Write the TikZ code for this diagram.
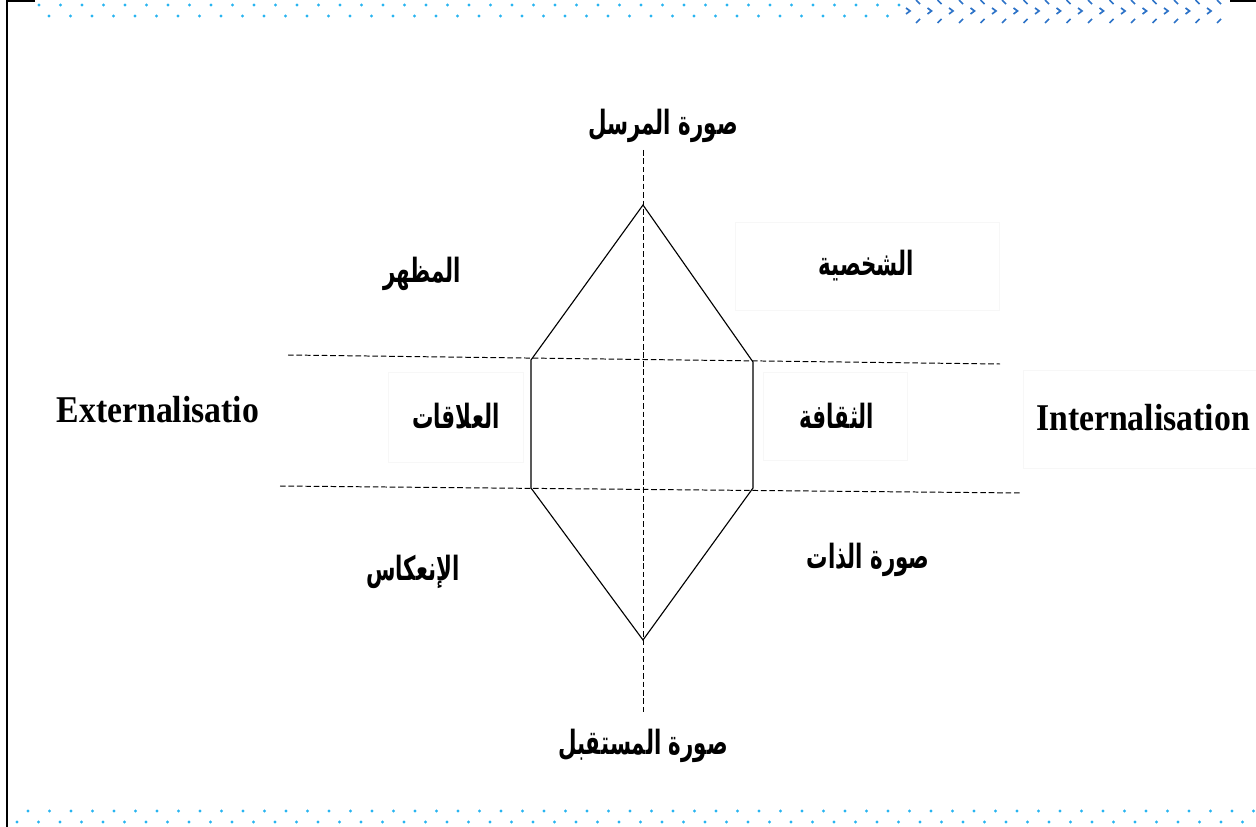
\documentclass[tikz,border=0pt]{standalone}
\usepackage{fontspec}
\usepackage{graphicx}
\setmainfont{Liberation Serif}
\newfontfamily\arabicfont[Script=Arabic]{DejaVu Sans}
\TeXXeTstate=1
\usepackage{tikz}
\usetikzlibrary{positioning, calc}
\definecolor{dotblue}{RGB}{40,180,240}
\definecolor{chevblue}{RGB}{45,115,200}

\newcommand{\ar}[1]{\scalebox{0.8}[1.25]{\arabicfont\bfseries\beginR #1\endR}}

\begin{document}
\begin{tikzpicture}[
    x=0.025cm, y=-0.025cm,
    lbl/.style={font=\fontsize{19}{22}\selectfont, inner sep=0pt},
    faint/.style={draw=black!3, line width=0.6pt},
    latin/.style={font=\bfseries\fontsize{24}{28}\selectfont, inner sep=0pt},
    dline/.style={dash pattern=on 4pt off 2pt, line width=0.7pt},
    hexline/.style={line width=0.8pt}
]
\useasboundingbox (0,0) rectangle (1256,827);

% frame and border ornaments
\draw[line width=1.4pt] (35,1) -- (7,1) -- (7,827);
\draw[line width=1.4pt] (1230,1) -- (1256,1);
\foreach \i in {0,...,40} {
    \fill[dotblue] (39+21.5*\i,5) circle[radius=1.1pt];
}
\foreach \i in {0,...,39} {
    \fill[dotblue] (49+21.5*\i,16) circle[radius=1.1pt];
}
\foreach \i in {0,...,57} {
    \fill[dotblue] (28+21.5*\i,811) circle[radius=1.1pt];
    \fill[dotblue] (17+21.5*\i,822) circle[radius=1.1pt];
}
\foreach \i in {0,...,14} {
    \draw[chevblue, line width=1.2pt] (916+21.5*\i,0) -- (920+21.5*\i,4);
    \draw[chevblue, line width=1.2pt] (906+21.5*\i,8) -- (910+21.5*\i,11) -- (906+21.5*\i,14);
    \draw[chevblue, line width=1.2pt] (920+21.5*\i,19) -- (916+21.5*\i,23);
}

% faint text boxes
\draw[faint] (735,222) rectangle (999,310);
\draw[faint] (388,372) rectangle (523,462);
\draw[faint] (763,372) rectangle (907,460);
\draw[faint] (1023,370) rectangle (1256,468);

% labels
\node[lbl] (sender) at (663,126) {\ar{صورة المرسل}};
\node[lbl] (receiver) at (643,746) {\ar{صورة المستقبل}};
\node[lbl] (look) at (422,274) {\ar{المظهر}};
\node[lbl] (persona) at (866,266) {\ar{الشخصية}};
\node[lbl] (relations) at (456,416) {\ar{العلاقات}};
\node[lbl] (culture) at (837,416) {\ar{الثقافة}};
\node[lbl] (reflect) at (413,572) {\ar{الإنعكاس}};
\node[lbl] (selfimg) at (868,560) {\ar{صورة الذات}};
\node[latin] (ext) at (158,410) {\scalebox{1}[1.12]{Externalisatio}};
\node[latin] (int) at (1143,418) {\scalebox{1}[1.12]{Internalisation}};

% axes
\coordinate (axT) at (643,150);
\coordinate (axB) at (643,712);
\coordinate (upL) at (288,355);
\coordinate (upR) at (1000,364);
\coordinate (loL) at (280,486);
\coordinate (loR) at (1022,493);
\draw[dline] (axT) -- (axB);
\draw[dline] (upL) -- (upR);
\draw[dline] (loL) -- (loR);

% hexagon
\coordinate (apexT) at (643,205);
\coordinate (ul) at (531,360);
\coordinate (ll) at (531,488);
\coordinate (apexB) at (643,640);
\coordinate (lr) at (753,488);
\coordinate (ur) at (753,362);
\draw[hexline] (apexT) -- (ul) -- (ll) -- (apexB) -- (lr) -- (ur) -- cycle;
\end{tikzpicture}
\end{document}
